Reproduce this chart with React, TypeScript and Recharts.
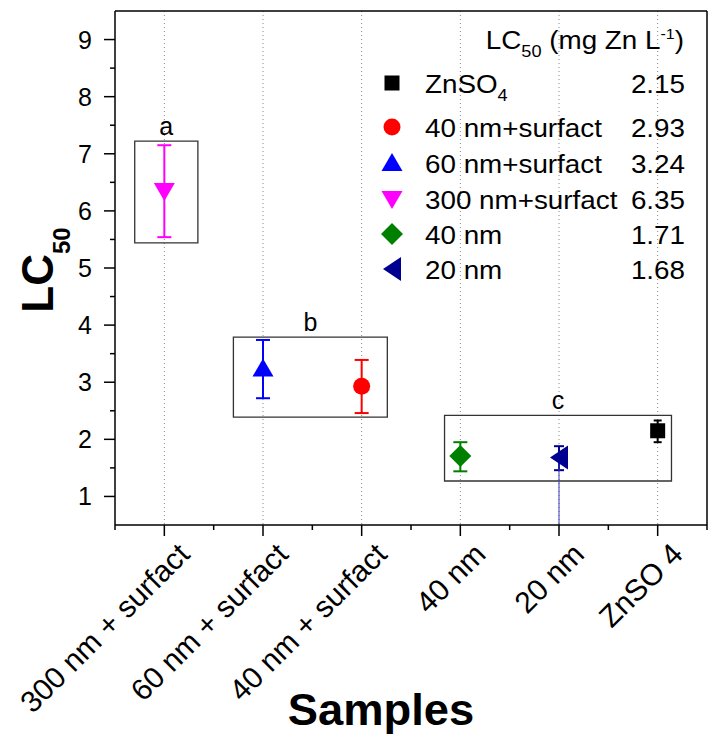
import React from 'react';
import { ScatterChart, Scatter, XAxis, YAxis, CartesianGrid, ErrorBar, ReferenceArea, Label } from 'recharts';

// samples along the x axis, in plotting order
const samples = ['300 nm + surfact', '60 nm + surfact', '40 nm + surfact', '40 nm', '20 nm', 'ZnSO 4'];
const legendNames = ['300 nm+surfact', '60 nm+surfact', '40 nm+surfact', '40 nm', '20 nm', 'ZnSO'];
const legendSubs = ['', '', '', '', '', '4'];
const lc50 = [6.35, 3.24, 2.93, 1.71, 1.68, 2.15];
const errLow = [0.81, 0.52, 0.47, 0.27, 0.22, 0.2];
const errHigh = [0.8, 0.5, 0.46, 0.24, 0.2, 0.18];
const tailLow = [0, 0, 0, 0, 1.18, 0];
const colors = ['#ff00ff', '#0000ff', '#ff0000', '#008000', '#000090', '#000000'];
const markers = ['triangleDown', 'triangle', 'circle', 'diamond', 'triangleLeft', 'square'];
const capWidths = [7, 7, 7, 7, 5, 4];
const legendOrder = [5, 2, 1, 0, 3, 4];

// significance groups
const groupLabels = ['a', 'b', 'c'];
const groupX1 = [-0.3, 0.7, 2.84];
const groupX2 = [0.34, 2.26, 5.14];
const groupY1 = [5.44, 2.39, 1.27];
const groupY2 = [7.22, 3.79, 2.42];

const xTicks = [-0.5, 0, 0.5, 1, 1.5, 2, 2.5, 3, 3.5, 4, 4.5, 5, 5.5];
const yTicks = [1, 1.5, 2, 2.5, 3, 3.5, 4, 4.5, 5, 5.5, 6, 6.5, 7, 7.5, 8, 8.5, 9];
const xCategoryTicks = [0, 1, 2, 3, 4, 5];

const FONT = '"Liberation Sans", Arial, sans-serif';
const SX = 1.07;

const marker = (kind: string, color: string, cx: number, cy: number) => {
  switch (kind) {
    case 'square':
      return <rect x={cx - 7.5} y={cy - 7.5} width={15} height={15} fill={color} />;
    case 'circle':
      return <circle cx={cx} cy={cy} r={8.5} fill={color} />;
    case 'triangle':
      return <polygon points={`${cx},${cy - 10} ${cx + 10.5},${cy + 8} ${cx - 10.5},${cy + 8}`} fill={color} />;
    case 'triangleDown':
      return <polygon points={`${cx - 10.5},${cy - 8} ${cx + 10.5},${cy - 8} ${cx},${cy + 10}`} fill={color} />;
    case 'diamond':
      return <polygon points={`${cx},${cy - 11} ${cx + 11},${cy} ${cx},${cy + 11} ${cx - 11},${cy}`} fill={color} />;
    case 'triangleLeft':
      return <polygon points={`${cx - 9},${cy} ${cx + 9},${cy - 12} ${cx + 9},${cy + 12}`} fill={color} />;
    default:
      return null;
  }
};

const BottomTick = ({ x, y, payload }: any) => {
  const v = payload.value;
  const major = Number.isInteger(v);
  return (
    <g>
      <line x1={x} y1={y} x2={x} y2={y + (major ? 11 : 5)} stroke="#000" strokeWidth={1.5} />
      {major && (
        <text
          transform={`translate(${x + 27},${y + 31}) rotate(-45)`}
          textAnchor="end"
          fontSize={30}
          fontFamily={FONT}
          fill="#000"
        >
          {samples[v]}
        </text>
      )}
    </g>
  );
};

const TopTick = ({ x, y, payload }: any) => {
  const major = Number.isInteger(payload.value);
  return <line x1={x} y1={y} x2={x} y2={y + (major ? 7 : 4)} stroke="#000" strokeWidth={1.5} />;
};

const LeftTick = ({ x, y, payload }: any) => {
  const v = payload.value;
  const major = Number.isInteger(v);
  return (
    <g>
      <line x1={x - (major ? 11 : 5)} y1={y} x2={x} y2={y} stroke="#000" strokeWidth={1.5} />
      {major && (
        <text x={x - 23} y={y + 9} textAnchor="end" fontSize={25} fontFamily={FONT} fill="#000">
          {v}
        </text>
      )}
    </g>
  );
};

const RightTick = ({ x, y, payload }: any) => {
  const major = Number.isInteger(payload.value);
  return <line x1={x - (major ? 7 : 4)} y1={y} x2={x} y2={y} stroke="#000" strokeWidth={1.5} />;
};

const YTitle = (props: any) => {
  const vb = props.viewBox || { x: 0, y: 11, width: 115, height: 514 };
  const cy = vb.y + vb.height / 2 + 2;
  return (
    <text
      transform={`translate(${vb.x + 53},${cy}) rotate(-90)`}
      textAnchor="middle"
      fontSize={44}
      fontWeight="bold"
      fontFamily={FONT}
      fill="#000"
    >
      LC<tspan fontSize={24} dy={17}>50</tspan>
    </text>
  );
};

const XTitle = (props: any) => {
  const vb = props.viewBox || { x: 115, y: 525, width: 592, height: 210 };
  return (
    <text
      transform={`translate(${vb.x + vb.width / 2 - 30},${vb.y + 200}) scale(1.03,1)`}
      textAnchor="middle"
      fontSize={44}
      fontWeight="bold"
      fontFamily={FONT}
      fill="#000"
    >
      Samples
    </text>
  );
};

const rowY = [83, 127, 163, 199, 234, 269];

const LegendBox = () => (
  <svg width={708} height={735} style={{ position: 'absolute', left: 0, top: 0, pointerEvents: 'none' }}>
    <text transform={`translate(684,49) scale(${SX},1)`} textAnchor="end" fontSize={26} fontFamily={FONT} fill="#000">
      LC<tspan fontSize={17} dy={8}>50</tspan>
      <tspan dy={-8}> (mg Zn L</tspan>
      <tspan fontSize={15} dy={-10}>-1</tspan>
      <tspan dy={10}>)</tspan>
    </text>
    {legendOrder.map((i, r) => (
      <g key={i}>
        {marker(markers[i], colors[i], 392, rowY[r])}
        <text transform={`translate(425,${rowY[r] + 9.5}) scale(${SX},1)`} fontSize={26} fontFamily={FONT} fill="#000">
          {legendNames[i]}
          {legendSubs[i] && (
            <tspan fontSize={17} dy={8}>
              {legendSubs[i]}
            </tspan>
          )}
        </text>
        <text
          transform={`translate(685,${rowY[r] + 9.5}) scale(${SX},1)`}
          textAnchor="end"
          fontSize={26}
          fontFamily={FONT}
          fill="#000"
        >
          {lc50[i].toFixed(2)}
        </text>
      </g>
    ))}
  </svg>
);

export default function App() {
  return (
    <div style={{ position: 'absolute', left: 0, top: 0, width: 708, height: 735, background: '#fff' }}>
      <ScatterChart width={708} height={735} margin={{ top: 0, right: 0, bottom: 0, left: 0 }} style={{ fontFamily: FONT }}>
        <CartesianGrid horizontal={false} verticalValues={xCategoryTicks} stroke="#888" strokeDasharray="1 3" />
        <XAxis
          type="number"
          dataKey="x"
          domain={[-0.5, 5.5]}
          ticks={xTicks}
          interval={0}
          height={210}
          tickSize={0}
          tickMargin={0}
          tickLine={false}
          tick={<BottomTick />}
          axisLine={{ stroke: '#000', strokeWidth: 1.5 }}
        >
          <Label content={<XTitle />} />
        </XAxis>
        <XAxis
          xAxisId="top"
          orientation="top"
          type="number"
          domain={[-0.5, 5.5]}
          ticks={xTicks}
          interval={0}
          height={11}
          tickSize={0}
          tickMargin={0}
          tickLine={false}
          tick={<TopTick />}
          axisLine={{ stroke: '#000', strokeWidth: 1.5 }}
        />
        <YAxis
          type="number"
          dataKey="y"
          domain={[0.5, 9.5]}
          ticks={yTicks}
          interval={0}
          width={115}
          tickSize={0}
          tickMargin={0}
          tickLine={false}
          tick={<LeftTick />}
          axisLine={{ stroke: '#000', strokeWidth: 1.5 }}
          allowDataOverflow
        >
          <Label content={<YTitle />} />
        </YAxis>
        <YAxis
          yAxisId="right"
          orientation="right"
          type="number"
          domain={[0.5, 9.5]}
          ticks={yTicks}
          interval={0}
          width={1}
          tickSize={0}
          tickMargin={0}
          tickLine={false}
          tick={<RightTick />}
          axisLine={{ stroke: '#000', strokeWidth: 1.5 }}
        />
        {groupLabels.map((g, k) => (
          <ReferenceArea
            key={g}
            x1={groupX1[k]}
            x2={groupX2[k]}
            y1={groupY1[k]}
            y2={groupY2[k]}
            fill="none"
            fillOpacity={0}
            stroke="#333"
            strokeWidth={1.3}
            label={{ value: g, position: 'top', offset: 6, fontSize: 25, fill: '#000', fontFamily: FONT }}
          />
        ))}
        {samples.map((s, i) => (
          <Scatter
            key={s}
            name={s}
            data={[{ x: i, y: lc50[i], err: [errLow[i], errHigh[i]], tail: [tailLow[i], 0] }]}
            fill={colors[i]}
            isAnimationActive={false}
            shape={(p: any) => marker(markers[i], colors[i], p.cx, p.cy)}
          >
            <ErrorBar dataKey="err" direction="y" width={capWidths[i]} strokeWidth={2} stroke={colors[i]} />
            {tailLow[i] > 0 && <ErrorBar dataKey="tail" direction="y" width={0} strokeWidth={1} stroke="#3a3ab8" />}
          </Scatter>
        ))}
      </ScatterChart>
      <LegendBox />
    </div>
  );
}
